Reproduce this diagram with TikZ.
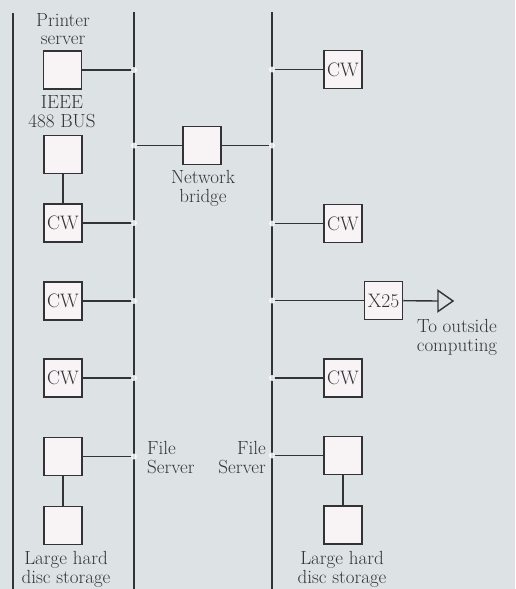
\documentclass[tikz,border=0pt]{standalone}
\usepackage{xcolor}
\definecolor{bg}{RGB}{221,226,228}
\definecolor{ink}{RGB}{50,50,55}
\definecolor{txt}{RGB}{52,52,58}
\definecolor{boxfill}{RGB}{248,244,245}
\begin{document}
\begin{tikzpicture}[x=1pt,y=-1pt,
  box/.style={draw=ink,line width=1.5pt,fill=boxfill,minimum size=38pt,inner sep=0pt,
    text=txt,font=\fontsize{19.5}{20}\selectfont},
  lbl/.style={text=txt,font=\fontsize{19}{18.8}\selectfont,align=center,inner sep=0pt},
  bus/.style={draw=ink,line width=1.8pt},
  wire/.style={draw=ink,line width=1.4pt},
  dot/.style={fill=white,opacity=0.85}]
\fill[bg] (0,0) rectangle (515,589);
\useasboundingbox (0,0) rectangle (515,589);
% bus reference coordinates
\coordinate (b0t) at (13,13);
\coordinate (b0b) at (13,589);
\coordinate (b1t) at (134,12);
\coordinate (b1b) at (134,589);
\coordinate (b2t) at (272,12);
\coordinate (b2b) at (272,589);
\draw[bus] (b0t) -- (b0b);
\draw[bus] (b1t) -- (b1b);
\draw[bus] (b2t) -- (b2b);
% boxes
\node[box] (ps) at (62.5,70) {};
\node[box] (ieee) at (63,154.5) {};
\node[box] (cwl1) at (63,223) {CW};
\node[box] (cwl2) at (63,301) {CW};
\node[box] (cwl3) at (63,378) {CW};
\node[box] (fsl) at (63,456.5) {};
\node[box] (dl) at (63,525.5) {};
\node[box] (nb) at (202,145.5) {};
\node[box] (cwr1) at (343,69.5) {CW};
\node[box] (cwr2) at (343,223.5) {CW};
\node[box] (x25) at (383.5,300.5) {X25};
\node[box] (cwr3) at (343,378) {CW};
\node[box] (fsr) at (343,455.5) {};
\node[box] (dr) at (343,525) {};
\coordinate (tip) at (438,301);
% connectors
\draw[wire] (ps) -- (ps -| b1t);
\draw[wire] (cwl1) -- (cwl1 -| b1t);
\draw[wire] (cwl2) -- (cwl2 -| b1t);
\draw[wire] (cwl3) -- (cwl3 -| b1t);
\draw[wire] (fsl) -- (fsl -| b1t);
\draw[wire] (nb) -- (nb -| b1t);
\draw[wire] (nb) -- (nb -| b2t);
\draw[wire] (cwr1) -- (cwr1 -| b2t);
\draw[wire] (cwr2) -- (cwr2 -| b2t);
\draw[wire] (x25) -- (x25 -| b2t);
\draw[wire] (cwr3) -- (cwr3 -| b2t);
\draw[wire] (fsr) -- (fsr -| b2t);
\draw[wire] (ieee) -- (cwl1);
\draw[wire] (fsl) -- (dl);
\draw[wire] (fsr) -- (dr);
\draw[wire] (x25) -- (tip);
\draw[wire,fill=bg,line join=miter] (tip) -- ++(0,-10.5) -- ++(15,10.5) -- ++(-15,10.5) -- cycle;
% junction dots
\foreach \n in {ps,cwl1,cwl2,cwl3,fsl,nb}{\fill[dot] (\n -| b1t) circle (3pt);}
\foreach \n in {cwr1,cwr2,x25,cwr3,fsr,nb}{\fill[dot] (\n -| b2t) circle (3pt);}
% labels
\node[lbl] (tps) at (63,29) {Printer\\server};
\node[lbl] (tieee) at (62,112) {IEEE\\488 BUS};
\node[lbl] (tnb) at (203,188) {Network\\bridge};
\node[lbl,anchor=north west,align=left] (tfsl) at (147,441) {File\\Server};
\node[lbl,anchor=north east,align=right] (tfsr) at (266,441) {File\\Server};
\node[lbl] (tdl) at (66,569) {Large hard\\disc storage};
\node[lbl] (tdr) at (342,569) {Large hard\\disc storage};
\node[lbl] (tout) at (457,337) {To outside\\computing};
\end{tikzpicture}
\end{document}
